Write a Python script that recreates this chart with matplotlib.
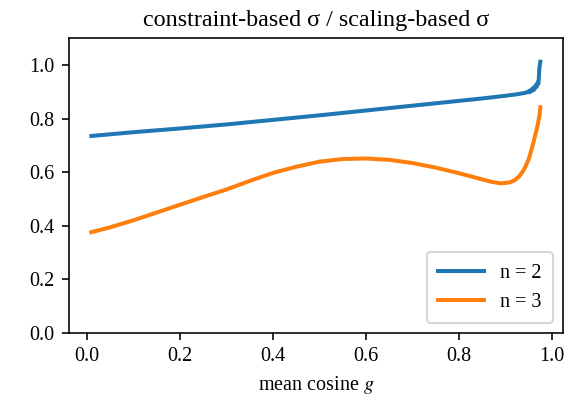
import numpy as np
import matplotlib
matplotlib.use("Agg")
import matplotlib.pyplot as plt

plt.rcParams.update({
    "font.family": ["Liberation Serif", "DejaVu Serif"],
    "mathtext.fontset": "stix",
    "font.size": 10,
})

# mean cosine g values
g_n2 = [0.01, 0.10, 0.20, 0.30, 0.40, 0.50, 0.60, 0.70, 0.80, 0.85, 0.90,
        0.93, 0.945, 0.950, 0.952, 0.955, 0.957, 0.960, 0.962, 0.965,
        0.967, 0.969, 0.971, 0.972, 0.973, 0.975]
ratio_n2 = [0.735, 0.749, 0.763, 0.778, 0.795, 0.812, 0.830, 0.848, 0.866,
            0.875, 0.885, 0.892, 0.897, 0.902, 0.898, 0.908, 0.903, 0.915,
            0.908, 0.925, 0.918, 0.935, 0.930, 0.960, 0.990, 1.012]

g_n3 = [0.01, 0.05, 0.10, 0.15, 0.20, 0.25, 0.30, 0.35, 0.40, 0.45, 0.50,
        0.55, 0.60, 0.65, 0.70, 0.75, 0.80, 0.85, 0.87, 0.89, 0.91, 0.92,
        0.93, 0.94, 0.95, 0.955, 0.96, 0.965, 0.97, 0.973, 0.975]
ratio_n3 = [0.376, 0.394, 0.420, 0.449, 0.478, 0.507, 0.535, 0.567, 0.597,
            0.620, 0.639, 0.649, 0.651, 0.646, 0.634, 0.617, 0.596, 0.573,
            0.564, 0.558, 0.562, 0.570, 0.585, 0.610, 0.648, 0.678, 0.710,
            0.745, 0.782, 0.810, 0.842]

fig = plt.figure(figsize=(579 / 145, 406 / 145), dpi=145)
ax = fig.add_subplot(111)
fig.subplots_adjust(left=0.119, right=0.972, top=0.906, bottom=0.180)

ax.plot(g_n2, ratio_n2, lw=2.0, label="n = 2")
ax.plot(g_n3, ratio_n3, lw=2.0, label="n = 3")

ax.set_ylim(0, 1.1)
ax.set_xlabel(r"mean cosine $g$")
ax.set_title("constraint-based σ / scaling-based σ")
ax.legend(loc="lower right", handlelength=2.3, borderpad=0.55)

plt.savefig("out.png", dpi=145)
